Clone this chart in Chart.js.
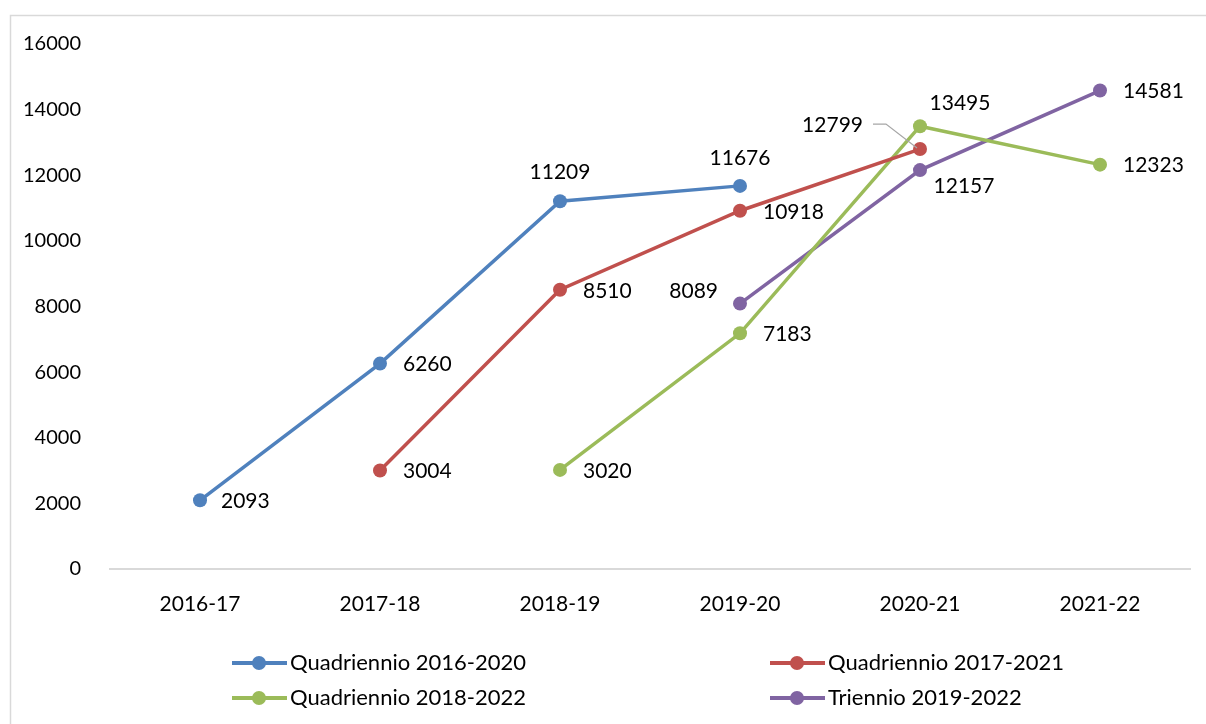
<!DOCTYPE html>
<html>
<head>
<meta charset="utf-8">
<script src="https://cdn.jsdelivr.net/npm/chart.js@4"></script>
<style>
    body {margin: 0; background: #fff;}
    canvas {display: block;}
</style>
</head>
<body>
<canvas id="lineChart" width="1206" height="724"></canvas>
<script>
// Dati del grafico
var anni = ['2016-17', '2017-18', '2018-19', '2019-20', '2020-21', '2021-22'];
var serieNomi = ['Quadriennio 2016-2020', 'Quadriennio 2017-2021', 'Quadriennio 2018-2022', 'Triennio 2019-2022'];
var quad1620 = [2093, 6260, 11209, 11676, null, null];
var quad1721 = [null, 3004, 8510, 10918, 12799, null];
var quad1822 = [null, null, 3020, 7183, 13495, 12323];
var trien1922 = [null, null, null, 8089, 12157, 14581];
var yTicks = [0, 2000, 4000, 6000, 8000, 10000, 12000, 14000, 16000];

var colori = ['#4f81bd', '#c0504d', '#9bbb59', '#8064a2'];
var FONT = 'Lato, "Noto Sans", sans-serif';

// Posizione etichette: [dx, dy, align] per ogni punto (null = nessuna)
var posEtichette = [
    [[21, 1, 'left'], [23, 1, 'left'], [0, -29, 'center'], [0, -28, 'center'], null, null],
    [null, [23, 1, 'left'], [23, 1, 'left'], [23, 1, 'left'], [-57, -24, 'right', true], null],
    [null, null, [23, 1, 'left'], [23, 1, 'left'], [40, -23, 'center'], [23, 1, 'left']],
    [null, null, null, [-22, -12, 'right'], [44, 16, 'center'], [23, 1, 'left']]
];

// Bordo e sfondo
var bordoPlugin = {
    id: 'bordo',
    beforeDraw: function (chart) {
        var ctx = chart.ctx;
        ctx.save();
        ctx.fillStyle = '#fff';
        ctx.fillRect(0, 0, chart.width, chart.height);
        ctx.strokeStyle = '#d9d9d9';
        ctx.lineWidth = 1.5;
        ctx.beginPath();
        ctx.moveTo(10.5, chart.height);
        ctx.lineTo(10.5, 15.5);
        ctx.lineTo(chart.width, 15.5);
        ctx.stroke();
        ctx.restore();
    }
};

// Etichette dei valori
var etichettePlugin = {
    id: 'etichette',
    afterDatasetsDraw: function (chart) {
        var ctx = chart.ctx;
        ctx.save();
        ctx.font = '21px ' + FONT;
        ctx.fillStyle = '#000';
        ctx.textBaseline = 'middle';
        chart.data.datasets.forEach(function (ds, di) {
            var meta = chart.getDatasetMeta(di);
            meta.data.forEach(function (pt, i) {
                var v = ds.data[i];
                var p = posEtichette[di][i];
                if (v === null || !p) return;
                var x = pt.x + p[0], y = pt.y + p[1];
                ctx.textAlign = p[2];
                ctx.fillText(String(v), x, y);
                if (p[3]) {
                    // linea guida
                    ctx.strokeStyle = '#a6a6a6';
                    ctx.lineWidth = 1.2;
                    ctx.beginPath();
                    ctx.moveTo(x + 10, y - 1);
                    ctx.lineTo(x + 23, y - 1);
                    ctx.lineTo(pt.x - 3, pt.y - 1);
                    ctx.stroke();
                }
            });
        });
        ctx.restore();
    }
};

// Legenda 2x2
var legendaPlugin = {
    id: 'legendaCustom',
    afterDraw: function (chart) {
        var ctx = chart.ctx;
        var colX = [232, 770];
        var rowY = [663, 698];
        ctx.save();
        ctx.font = '22px ' + FONT;
        ctx.textBaseline = 'middle';
        ctx.textAlign = 'left';
        serieNomi.forEach(function (nome, i) {
            var x = colX[i % 2], y = rowY[Math.floor(i / 2)];
            ctx.strokeStyle = colori[i];
            ctx.lineWidth = 4;
            ctx.beginPath();
            ctx.moveTo(x, y);
            ctx.lineTo(x + 55, y);
            ctx.stroke();
            ctx.fillStyle = colori[i];
            ctx.beginPath();
            ctx.arc(x + 27, y, 7, 0, Math.PI * 2);
            ctx.fill();
            ctx.fillStyle = '#000';
            ctx.fillText(nome, x + 58, y);
        });
        ctx.restore();
    }
};

var serie = [quad1620, quad1721, quad1822, trien1922];

new Chart(document.getElementById('lineChart'), {
    type: 'line',
    data: {
        labels: anni,
        datasets: serie.map(function (d, i) {
            return {
                label: serieNomi[i],
                data: d,
                borderColor: colori[i],
                backgroundColor: colori[i],
                borderWidth: 3.5,
                pointRadius: 7,
                pointHoverRadius: 7,
                pointBorderWidth: 0,
                tension: 0,
                spanGaps: false
            };
        })
    },
    options: {
        responsive: false,
        animation: false,
        events: [],
        layout: {padding: {left: 0, right: 16, top: 44, bottom: 0}},
        plugins: {
            legend: {display: false},
            tooltip: {enabled: false}
        },
        scales: {
            x: {
                offset: true,
                grid: {display: false},
                border: {display: true, color: '#d9d9d9', width: 2},
                ticks: {color: '#000', padding: 15, font: {family: FONT, size: 21}},
                afterFit: function (s) { s.height = 155; }
            },
            y: {
                min: 0,
                max: 16000,
                afterBuildTicks: function (s) {
                    s.ticks = yTicks.map(function (v) { return {value: v}; });
                },
                grid: {display: false},
                border: {display: false},
                ticks: {
                    color: '#000',
                    padding: 21,
                    font: {family: FONT, size: 20},
                    callback: function (v) { return String(v); }
                },
                afterFit: function (s) { s.width = 110; }
            }
        }
    },
    plugins: [bordoPlugin, etichettePlugin, legendaPlugin]
});
</script>
</body>
</html>
